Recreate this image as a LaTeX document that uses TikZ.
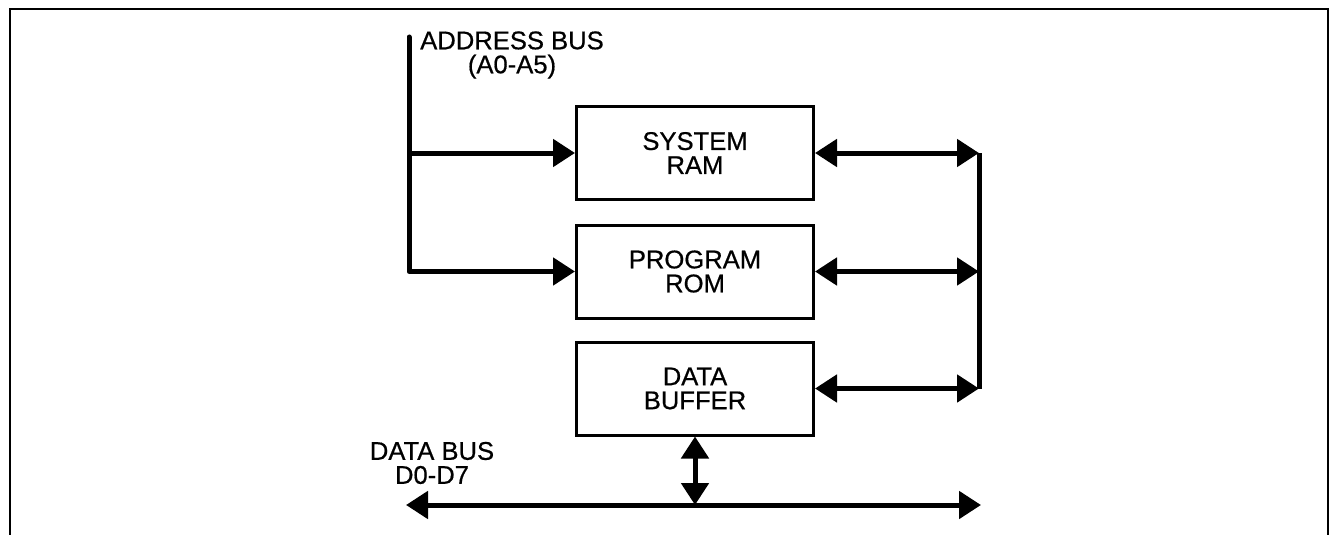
\documentclass[tikz,border=0pt]{standalone}
\usepackage{fontspec}
\setmainfont{Liberation Sans}[FakeBold=0.6]
\newfontfamily\lblfont{Liberation Sans}[FakeBold=0.6]
\usetikzlibrary{arrows.meta}
\tikzset{
  blk/.style={draw, line width=1.5pt, minimum width=118.5pt, minimum height=46.5pt, align=center, inner sep=0pt},
  bus/.style={line width=2.5pt},
  tip/.style={-{Triangle[length=11pt,width=13.5pt]}},
  dtip/.style={{Triangle[length=11pt,width=13.5pt]}-{Triangle[length=11pt,width=13.5pt]}},
  lbl/.style={align=center, inner sep=0pt},
  every node/.style={font=\lblfont\fontsize{12.8}{12}\selectfont},
}
\begin{document}
\begin{tikzpicture}[x=0.5pt,y=-0.5pt]
\useasboundingbox (0,0) rectangle (1338,535);
% frame
\draw[line width=1.2pt] (10,536) -- (10,9) -- (1328,9) -- (1328,536);
% blocks
\node[blk] (ram) at (695,153) {SYSTEM\\RAM};
\node[blk] (rom) at (695,271.5) {PROGRAM\\ROM};
\node[blk] (buf) at (695,388.5) {DATA\\BUFFER};
% coordinates
\coordinate (abtop) at (409,37);
\coordinate (rbus) at (979,153);
\coordinate (dbl) at (406,505);
\coordinate (dbr) at (981,505);
% address bus
\draw[bus, line cap=round] (abtop) -- (abtop |- rom.west);
\draw[bus, tip] (abtop |- rom.west) -- (rom.west);
\draw[bus, tip] (abtop |- ram.west) -- (ram.west);
% right data bus
\draw[bus] (ram.east -| rbus) -- (buf.east -| rbus);
\draw[bus, dtip] (ram.east) -- (ram.east -| rbus);
\draw[bus, dtip] (rom.east) -- (rom.east -| rbus);
\draw[bus, dtip] (buf.east) -- (buf.east -| rbus);
% bottom data bus
\draw[bus, dtip] (dbl) -- (dbr);
\draw[bus, dtip] (buf.south) -- (buf.south |- dbl);
% labels
\node[lbl] (ablbl) at (512,55) {ADDRESS BUS\\(A0-A5)};
\node[lbl] (dblbl) at (432,463) {DATA BUS\\D0-D7};
\end{tikzpicture}
\end{document}
